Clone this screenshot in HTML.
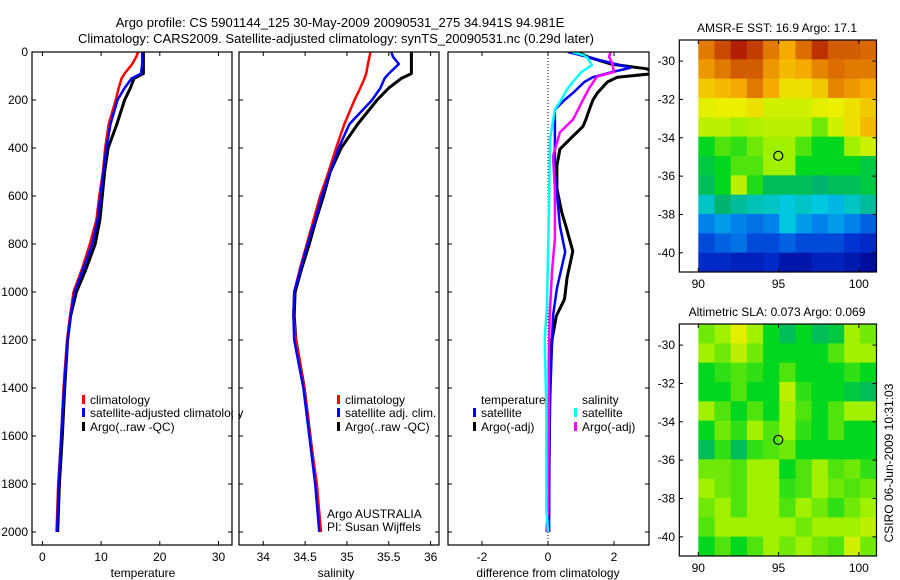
<!DOCTYPE html>
<html><head><meta charset="utf-8"><style>
html,body{margin:0;padding:0;background:#fff;}
svg{display:block;font-family:"Liberation Sans",sans-serif;}
text{font-size:12px;fill:#000;}
</style></head><body>
<svg id="fig" width="900" height="580" viewBox="0 0 900 580">
<text x="340" y="27" text-anchor="middle" style="font-size:13px">Argo profile: CS 5901144_125 30-May-2009 20090531_275 34.941S 94.981E</text>
<text x="336" y="43" text-anchor="middle" style="font-size:13px">Climatology: CARS2009. Satellite-adjusted climatology: synTS_20090531.nc (0.29d later)</text>
</svg>
<script>
// ---------- data ----------
const depthTS = [0,20,50,90,110,150,200,300,400,500,600,700,800,900,1000,1100,1200,1400,1600,1800,2000];
const tempArgo = [17.2,17.2,17.2,17.2,15.6,15,14,12.7,11.2,10.6,10.2,9.8,9,7.5,5.8,4.8,4.3,3.8,3.4,2.9,2.6];
const tempClim = [16.3,16,15.3,14,13.5,13,12.5,11.3,10.7,10.3,9.7,9.2,8.1,6.8,5.3,4.7,4.2,3.6,3.2,2.7,2.4];
const tempSat  = [17,17,17,16.8,15.2,14,12.8,11.6,10.9,10.4,9.9,9.4,8.5,7,5.5,4.8,4.3,3.7,3.2,2.8,2.5];
const salArgo = [35.77,35.77,35.77,35.77,35.65,35.5,35.36,35.13,34.93,34.8,34.72,34.63,34.55,34.46,34.38,34.37,34.39,34.49,34.56,34.63,34.68];
const salClim = [35.28,35.27,35.25,35.23,35.21,35.16,35.09,34.97,34.87,34.78,34.68,34.6,34.52,34.44,34.37,34.36,34.39,34.49,34.56,34.64,34.69];
const salSat  = [35.53,35.55,35.62,35.5,35.45,35.4,35.3,35.03,34.9,34.8,34.7,34.62,34.53,34.45,34.37,34.36,34.37,34.48,34.55,34.62,34.67];
const dTempArgoDepth = [0,20,50,70,90,105,125,170,200,240,280,310,350,405,475,570,670,730,830,940,1030,1100,1200,1300,1500,1700,1900,2000];
const dTempArgo = [0.9,1.2,1.9,3.0,3.2,2.1,1.8,1.5,1.36,1.25,1.15,1.06,0.76,0.36,0.27,0.27,0.42,0.55,0.75,0.58,0.5,0.25,0.12,0.05,0.05,0.03,0.02,0.02];
const dTempSatDepth = [0,10,25,55,66,85,105,125,170,200,240,364,500,724,833,985,1100,1300,1500,2000];
const dTempSat = [0.6,0.9,1.3,2.2,2.5,1.9,1.36,1.1,0.76,0.5,0.21,0.21,0.21,0.36,0.52,0.27,0.15,0.1,0.05,0.03];
const dSalSatDepth = [0,12,25,54,85,125,157,200,240,364,641,1055,1200,1500,1900,2000];
const dSalSat = [0.73,1.06,1.2,1.33,1.0,0.75,0.57,0.4,0.21,0.06,0.03,-0.03,-0.1,-0.05,-0.05,0.0];
const dSalArgoDepth = [0,20,50,83,103,150,199,281,335,434,571,778,914,1100,1300,1500,1900,2000];
const dSalArgo = [1.9,1.85,1.95,2.0,1.48,1.25,1.06,0.76,0.36,0.15,0.21,0.21,0.12,0.05,0.02,0.03,0.0,-0.05];
const depthTicks = [0,200,400,600,800,1000,1200,1400,1600,1800,2000];
const tempTicks = [0,10,20,30];
const salTicks = ["34","34.5","35","35.5","36"];
const diffTicks = [-2,0,2];
const latTicks = [-30,-32,-34,-36,-38,-40];
const lonTicks = [90,95,100];
const sstGrid = [
[0.8,0.88,0.95,0.9,0.8,0.72,0.82,0.92,0.85,0.85,0.83],
[0.75,0.8,0.85,0.85,0.75,0.7,0.72,0.78,0.82,0.8,0.8],
[0.68,0.7,0.72,0.8,0.72,0.65,0.65,0.68,0.78,0.75,0.72],
[0.62,0.63,0.63,0.65,0.6,0.6,0.6,0.62,0.63,0.65,0.68],
[0.58,0.58,0.55,0.57,0.58,0.58,0.58,0.52,0.6,0.65,0.7],
[0.45,0.5,0.48,0.52,0.55,0.55,0.5,0.45,0.45,0.55,0.6],
[0.42,0.45,0.5,0.5,0.55,0.55,0.45,0.45,0.45,0.45,0.42],
[0.4,0.45,0.58,0.47,0.4,0.4,0.4,0.38,0.4,0.4,0.42],
[0.32,0.38,0.35,0.33,0.32,0.3,0.32,0.3,0.28,0.32,0.35],
[0.22,0.25,0.22,0.2,0.22,0.3,0.25,0.22,0.25,0.22,0.18],
[0.15,0.18,0.2,0.15,0.15,0.18,0.15,0.15,0.15,0.12,0.1],
[0.1,0.1,0.08,0.08,0.1,0.05,0.05,0.08,0.08,0.06,0.03]];
const slaGrid = [
[0.52,0.55,0.62,0.55,0.45,0.4,0.45,0.4,0.42,0.55,0.52],
[0.55,0.52,0.58,0.52,0.45,0.45,0.45,0.45,0.5,0.55,0.55],
[0.45,0.48,0.5,0.48,0.45,0.5,0.45,0.45,0.45,0.48,0.45],
[0.45,0.45,0.5,0.45,0.45,0.58,0.48,0.45,0.45,0.42,0.4],
[0.55,0.5,0.45,0.5,0.45,0.55,0.5,0.45,0.5,0.55,0.55],
[0.45,0.52,0.48,0.55,0.5,0.55,0.48,0.45,0.5,0.45,0.45],
[0.4,0.48,0.4,0.48,0.5,0.52,0.45,0.45,0.45,0.45,0.45],
[0.52,0.52,0.5,0.55,0.55,0.45,0.5,0.55,0.5,0.52,0.48],
[0.55,0.52,0.5,0.55,0.55,0.48,0.5,0.55,0.52,0.5,0.52],
[0.52,0.55,0.5,0.55,0.55,0.5,0.55,0.52,0.48,0.52,0.55],
[0.5,0.55,0.55,0.55,0.55,0.55,0.52,0.55,0.55,0.55,0.58],
[0.45,0.5,0.45,0.5,0.55,0.52,0.55,0.52,0.5,0.6,0.52]];
const floatLon = 94.981, floatLat = -34.941;

// ---------- helpers ----------
const NS = "http://www.w3.org/2000/svg";
const svg = document.getElementById('fig');
function mk(tag, attrs, parent){ const e=document.createElementNS(NS,tag); for(const k in attrs) e.setAttribute(k,attrs[k]); (parent||svg).appendChild(e); return e; }
function txt(x,y,s,anchor,parent,size){ const t=mk('text',{x:x,y:y,'text-anchor':anchor||'start'},parent); if(size) t.style.fontSize=size+'px'; t.textContent=s; return t; }

const yTop=52, yBot=545, dMax=2054;
const yD = d => yTop + d*(yBot-yTop)/dMax;

function panel(name, x0, x1, vmin, vmax){
  const g = mk('g',{});  
  const xs = v => x0 + (v-vmin)*(x1-x0)/(vmax-vmin);
  const cid = 'clip-'+name;
  const cp = mk('clipPath',{id:cid},g); mk('rect',{x:x0,y:yTop,width:x1-x0,height:yBot-yTop},cp);
  return {g, xs, x0, x1, cid};
}
function frame(p){
  const r = mk('rect',{x:p.x0,y:yTop,width:p.x1-p.x0,height:yBot-yTop,fill:'none',stroke:'#000','stroke-width':1.2},p.g);
   
}
function yTicks(p, labels){
  depthTicks.forEach(d=>{
    const y=yD(d);
    mk('line',{x1:p.x0,x2:p.x0+4,y1:y,y2:y,stroke:'#000'},p.g);
    mk('line',{x1:p.x1,x2:p.x1-4,y1:y,y2:y,stroke:'#000'},p.g);
    if(labels){ const t=txt(p.x0-4,y+4,String(d),'end',p.g);   }
  });
}
function xTicks(p, ticks){
  ticks.forEach(v=>{
    const x=p.xs(parseFloat(v));
    mk('line',{x1:x,x2:x,y1:yBot,y2:yBot-4,stroke:'#000'},p.g);
    mk('line',{x1:x,x2:x,y1:yTop,y2:yTop+4,stroke:'#000'},p.g);
    const t=txt(x,yBot+16,String(v),'middle',p.g);  
  });
}
function line(p, depths, vals, color, w, name){
  const pts = depths.map((d,i)=>p.xs(vals[i]).toFixed(1)+','+yD(d).toFixed(1)).join(' ');
  const l = mk('polyline',{points:pts,fill:'none',stroke:color,'stroke-width':w,'stroke-linejoin':'round','clip-path':'url(#'+p.cid+')'},p.g);
   
}
function legendEntry(g, x, y, color, label){
  const e = mk('g',{},g);  
  mk('rect',{x:x,y:y-9,width:3,height:9,fill:color},e);
  txt(x+8,y,label,'start',e);
}

// ---------- temperature panel ----------
const pT = panel('temperature-panel', 32, 232, -1.77, 32.3);
line(pT, depthTS, tempArgo, '#000', 3, 'temp-argo-line');
line(pT, depthTS, tempClim, '#f00', 2.5, 'temp-climatology-line');
line(pT, depthTS, tempSat, '#00f', 2.5, 'temp-satellite-line');
frame(pT); yTicks(pT,true); xTicks(pT,tempTicks);
{const t=txt(143,577,'temperature','middle',pT.g);  }
{const lg=mk('g',{},pT.g);  
 legendEntry(lg,82,404,'#f00','climatology'); legendEntry(lg,82,417,'#00f','satellite-adjusted climatology'); legendEntry(lg,82,431,'#000','Argo(..raw -QC)');}

// ---------- salinity panel ----------
const pS = panel('salinity-panel', 239, 439, 33.71, 36.1);
line(pS, depthTS, salArgo, '#000', 3, 'sal-argo-line');
line(pS, depthTS, salClim, '#f00', 2.5, 'sal-climatology-line');
line(pS, depthTS, salSat, '#00f', 2.5, 'sal-satellite-line');
mk('rect',{x:233,y:390,width:5.5,height:50,fill:'#fff'},pS.g);
frame(pS); yTicks(pS,false); xTicks(pS,salTicks);
{const t=txt(336,577,'salinity','middle',pS.g);  }
{const lg=mk('g',{},pS.g);  
 legendEntry(lg,337,404,'#f00','climatology'); legendEntry(lg,337,417,'#00f','satellite adj. clim.'); legendEntry(lg,337,431,'#000','Argo(..raw -QC)');}
{const t=txt(327,518,'Argo AUSTRALIA','start',pS.g);  
 const t2=txt(327,531,'PI: Susan Wijffels','start',pS.g);  }

// ---------- difference panel ----------
const pD = panel('difference-panel', 448, 649, -3.03, 3.06);
mk('line',{x1:pD.xs(0),x2:pD.xs(0),y1:yTop,y2:yBot,stroke:'#000','stroke-dasharray':'1,2'},pD.g);
line(pD, dTempArgoDepth, dTempArgo, '#000', 3, 'diff-temp-argo-line');
line(pD, dTempSatDepth, dTempSat, '#00f', 2.5, 'diff-temp-satellite-line');
line(pD, dSalArgoDepth, dSalArgo, '#f0f', 2.5, 'diff-sal-argo-line');
line(pD, dSalSatDepth, dSalSat, '#0ff', 2.5, 'diff-sal-satellite-line');
frame(pD); yTicks(pD,false); xTicks(pD,diffTicks);
{const t=txt(548,577,'difference from climatology','middle',pD.g);  }
{const lg=mk('g',{},pD.g);  
 txt(481,404,'temperature','start',lg); txt(582,404,'salinity','start',lg);
 legendEntry(lg,473,417,'#00f','satellite'); legendEntry(lg,473,431,'#000','Argo(-adj)');
 legendEntry(lg,574,417,'#0ff','satellite'); legendEntry(lg,574,431,'#f0f','Argo(-adj)');}

// ---------- maps ----------
const cmapStops = [[0,[0,0,140]],[0.12,[0,50,210]],[0.22,[0,130,235]],[0.3,[0,200,225]],[0.38,[0,180,110]],[0.45,[0,215,30]],[0.55,[160,240,0]],[0.63,[235,240,0]],[0.72,[245,170,0]],[0.82,[220,110,0]],[1,[160,0,0]]];
function cmap(v){
  v=Math.max(0,Math.min(1,v));
  for(let i=1;i<cmapStops.length;i++){
    const [a,ca]=cmapStops[i-1],[b,cb]=cmapStops[i];
    if(v<=b){const f=(v-a)/(b-a);return 'rgb('+ca.map((c,k)=>Math.round(c+(cb[k]-c)*f)).join(',')+')';}
  }
  return 'rgb(160,0,0)';
}
function map(name, grid, yT, yB, title, titleY){
  const g = mk('g',{});  
  const lonMin=90, lonMax=101.1, fx0=698.3, fx1=876.5;
  const lonX = lon => fx0 + (lon-lonMin)*(fx1-fx0)/(lonMax-lonMin);
  const latMax=-28.9, latMin=-41.0;
  const latY = lat => yT + (latMax-lat)*(yB-yT)/(latMax-latMin);
  const nr=grid.length, nc=grid[0].length;
  const dlon=(lonMax-lonMin)/nc, dlat=(latMax-latMin)/nr;
  grid.forEach((row,i)=>row.forEach((v,j)=>{
    const x=lonX(lonMin+j*dlon), y=latY(latMax-i*dlat);
    const r=mk('rect',{x:x,y:y,width:lonX(lonMin+(j+1)*dlon)-x+0.5,height:latY(latMax-(i+1)*dlat)-y+0.5,fill:cmap(v)},g);
     
  }));
  const fr=mk('rect',{x:679.3,y:yT,width:fx1-679.3,height:yB-yT,fill:'none',stroke:'#000','stroke-width':1.2},g);
   
  latTicks.forEach(l=>{const y=latY(l);
    mk('line',{x1:679.3,x2:683,y1:y,y2:y,stroke:'#000'},g); mk('line',{x1:fx1,x2:fx1-4,y1:y,y2:y,stroke:'#000'},g);
    const t=txt(675,y+4,String(l),'end',g);  });
  lonTicks.forEach(l=>{const x=lonX(l);
    mk('line',{x1:x,x2:x,y1:yB,y2:yB-4,stroke:'#000'},g); mk('line',{x1:x,x2:x,y1:yT,y2:yT+4,stroke:'#000'},g);
    const t=txt(x,yB+16,String(l),'middle',g);  });
  const c=mk('circle',{cx:lonX(floatLon),cy:latY(floatLat),r:4.5,fill:'none',stroke:'#000','stroke-width':1.2},g);
   
  const t=txt(777,titleY,title,'middle',g);  
}
map('sst-map', sstGrid, 40, 272, 'AMSR-E SST: 16.9  Argo: 17.1', 32);
map('sla-map', slaGrid, 324, 556, 'Altimetric SLA: 0.073  Argo: 0.069', 316);
{const t=txt(0,0,'CSIRO 06-Jun-2009 10:31:03','middle'); t.setAttribute('transform','translate(893,463) rotate(-90)');
  }
</script>
</body></html>
